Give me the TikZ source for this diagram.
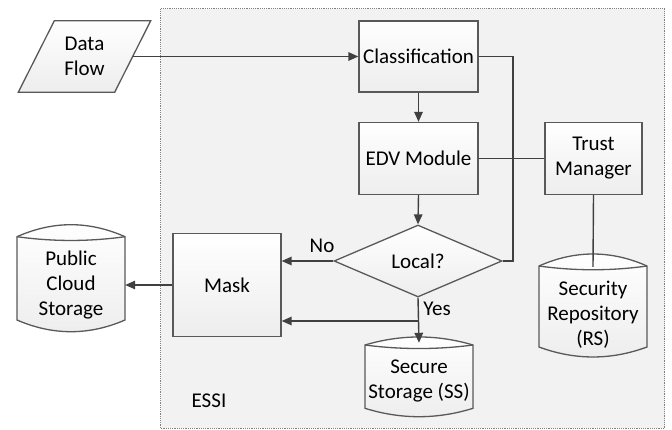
\documentclass[tikz,border=0pt]{standalone}
\usepackage{fontspec}
\setmainfont{Carlito}
\usetikzlibrary{arrows.meta,calc,shapes.geometric}
\pgfdeclarelayer{bgA}
\pgfdeclarelayer{bgB}
\pgfsetlayers{bgA,bgB,main}
\definecolor{lncol}{HTML}{404040}
\definecolor{bdcol}{HTML}{595959}
\definecolor{essibg}{HTML}{F2F2F2}
\definecolor{essibd}{HTML}{808080}
\newcommand\fsz{\fontsize{21}{25}\selectfont}
% #1 node, #2 corner y, #3 top ctrl y, #4 lens ctrl y, #5 bottom corner y, #6 bottom ctrl y
\newcommand\drawcyl[6]{%
  \path[shapeline,shapefill]
    ($(#1.center)+(-54,#2)$) .. controls ($(#1.center)+(-18,#3)$) and ($(#1.center)+(18,#3)$) .. ($(#1.center)+(54,#2)$)
    -- ($(#1.center)+(54,#5)$) .. controls ($(#1.center)+(18,#6)$) and ($(#1.center)+(-18,#6)$) .. ($(#1.center)+(-54,#5)$)
    -- cycle;
  \draw[shapeline]
    ($(#1.center)+(-54,#2)$) .. controls ($(#1.center)+(-18,#4)$) and ($(#1.center)+(18,#4)$) .. ($(#1.center)+(54,#2)$);
}
\begin{document}
\begin{tikzpicture}[x=1pt,y=-1pt,
  shapeline/.style={draw=bdcol, line width=1.3pt},
  shapefill/.style={top color=white, bottom color=black!7},
  box/.style={shapeline, shapefill, font=\fsz, align=center, inner sep=0pt},
  txt/.style={font=\fsz, align=center, inner sep=0pt},
  conn/.style={draw=lncol, line width=1.4pt},
  arr/.style={conn, -{Triangle[length=10pt,width=8.5pt]}},
  lbl/.style={font=\fsz, inner sep=0pt}]
\useasboundingbox (0,0) rectangle (672,429);

% ESSI container
\begin{pgfonlayer}{bgA}
\path[draw=essibd, fill=essibg, line width=0.9pt, dash pattern=on 1.2pt off 1pt] (160.5,8.5) rectangle (664.5,428);
\end{pgfonlayer}
\node[lbl] (essi) at (209,401) {ESSI};

% Nodes
\node[txt, minimum width=96, minimum height=71] (df) at (84.5,56.5) {Data\\Flow};
\node[box, minimum width=119, minimum height=71] (cls) at (418.5,56.5) {Classification};
\node[box, minimum width=119, minimum height=72] (edv) at (418.5,158.5) {EDV Module};
\node[box, minimum width=97, minimum height=72] (tm) at (593.5,158.5) {Trust\\Manager};
\node[diamond, aspect=2.333, shapeline, shapefill, font=\fsz, inner sep=0pt,
      minimum width=168, minimum height=72] (loc) at (418,261) {Local?};
\node[box, minimum width=108, minimum height=103] (mask) at (227,285) {Mask};
\node[txt, minimum width=108, minimum height=94] (pcs) at (71,285) {Public\\Cloud\\Storage};
\node[txt, minimum width=108, minimum height=76] (ss) at (419,381) {Secure\\Storage (SS)};
\node[txt, minimum width=108, minimum height=96] (rs) at (593,315) {Security\\Repository\\(RS)};

% Custom outlines
\begin{pgfonlayer}{bgB}
\path[shapeline,shapefill] ($(df.north west)+(18,0)$) -- ($(df.north east)+(18,0)$)
   -- ($(df.south east)+(-18,0)$) -- ($(df.south west)+(-18,0)$) -- cycle;
\drawcyl{pcs}{-48.3}{-64.3}{-43.3}{35}{50.6}
\drawcyl{ss}{-36}{-46.7}{-31.3}{27.3}{38.5}
\drawcyl{rs}{-49}{-65}{-44}{32}{45.3}
\end{pgfonlayer}

% Connectors
\coordinate (jr) at (513,56.5);
\coordinate (yb) at (418,321);
\draw[arr] (df.east) -- (cls.west);
\draw[conn] (cls.east) -- (jr) |- (loc.east);
\draw[arr] (cls.south) -- (edv.north);
\draw[conn] (edv.east) -- (tm.west);
\draw[conn] (tm.south) -- (rs.north);
\draw[arr] (edv.south) -- (loc.north);
\draw[arr] (loc.west) -- (loc.west -| mask.east);
\node[lbl] (no) at (322,246) {No};
\draw[arr] (loc.south) -- (ss.north);
\node[lbl] (yes) at (437,309) {Yes};
\draw[arr] (yb) -- (yb -| mask.east);
\draw[arr] (mask.west) -- (pcs.east);
\end{tikzpicture}
\end{document}
